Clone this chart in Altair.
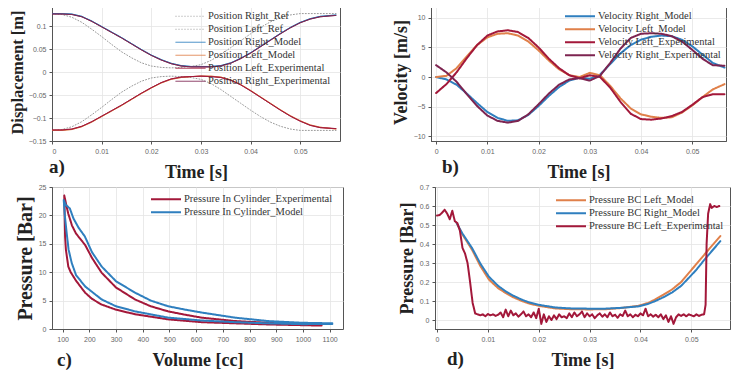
import altair as alt
import pandas as pd

# ---------------- Panel a: displacement ----------------
t_a = [0, 0.002, 0.004, 0.006, 0.008, 0.010, 0.012, 0.014, 0.016, 0.018, 0.020,
       0.022, 0.024, 0.026, 0.028, 0.030, 0.032, 0.034, 0.036, 0.038, 0.040,
       0.042, 0.044, 0.046, 0.048, 0.050, 0.052, 0.054, 0.0572]
pos_right_ref = [0.127, 0.125, 0.119, 0.108, 0.093, 0.077, 0.060, 0.044, 0.031, 0.020, 0.013,
                 0.010, 0.009, 0.010, 0.012, 0.016, 0.025, 0.038, 0.053, 0.068, 0.083,
                 0.097, 0.109, 0.118, 0.124, 0.127, 0.127, 0.127, 0.127]
pos_left_ref = [-0.127, -0.125, -0.119, -0.108, -0.093, -0.077, -0.060, -0.044, -0.031, -0.020, -0.013,
                -0.010, -0.009, -0.010, -0.012, -0.016, -0.025, -0.038, -0.053, -0.068, -0.083,
                -0.097, -0.109, -0.118, -0.124, -0.127, -0.127, -0.127, -0.127]
pos_right_model = [0.127, 0.127, 0.126, 0.121, 0.111, 0.099, 0.087, 0.075, 0.062, 0.049, 0.037,
                   0.027, 0.019, 0.014, 0.012, 0.012, 0.012, 0.014, 0.020, 0.030, 0.042,
                   0.056, 0.070, 0.084, 0.097, 0.108, 0.116, 0.121, 0.124]
pos_left_model = [-0.127, -0.127, -0.125, -0.119, -0.109, -0.097, -0.085, -0.073, -0.060, -0.047, -0.035,
                  -0.024, -0.016, -0.012, -0.010, -0.009, -0.009, -0.011, -0.017, -0.027, -0.040,
                  -0.054, -0.068, -0.082, -0.095, -0.106, -0.115, -0.120, -0.124]
pos_left_exp = [-0.126, -0.126, -0.124, -0.118, -0.108, -0.096, -0.084, -0.072, -0.059, -0.046, -0.034,
                -0.023, -0.015, -0.011, -0.010, -0.009, -0.010, -0.012, -0.018, -0.028, -0.041,
                -0.055, -0.069, -0.083, -0.096, -0.107, -0.116, -0.121, -0.123]
pos_right_exp = [0.126, 0.126, 0.125, 0.120, 0.110, 0.098, 0.086, 0.074, 0.061, 0.048, 0.036,
                 0.026, 0.018, 0.013, 0.011, 0.011, 0.011, 0.013, 0.019, 0.029, 0.041,
                 0.055, 0.069, 0.083, 0.096, 0.107, 0.115, 0.120, 0.123]

# ---------------- Panel b: velocity ----------------
t_b = [0, 0.002, 0.004, 0.006, 0.008, 0.010, 0.012, 0.014, 0.016, 0.018, 0.020,
       0.022, 0.024, 0.026, 0.028, 0.030, 0.032, 0.034, 0.036, 0.038, 0.040,
       0.042, 0.044, 0.046, 0.048, 0.050, 0.052, 0.054, 0.0563]
vel_right_model = [0, -0.4, -1.3, -2.8, -4.4, -5.9, -6.9, -7.4, -7.3, -6.4, -4.9,
                   -3.2, -1.7, -0.6, -0.1, -0.3, 0.4, 2.2, 4.0, 5.4, 6.3,
                   6.8, 7.0, 6.9, 6.3, 5.2, 3.8, 2.4, 1.6]
vel_left_model = [0, 0.2, 1.5, 3.5, 5.4, 6.7, 7.3, 7.4, 7.0, 6.0, 4.5,
                  2.8, 1.3, 0.3, 0.0, 0.7, 0.3, -1.5, -3.6, -5.3, -6.3,
                  -6.7, -6.9, -6.8, -6.0, -4.8, -3.4, -2.1, -1.2]
vel_left_exp = [-2.7, -1.2, 0.8, 3.2, 5.4, 7.0, 7.7, 7.9, 7.6, 6.6, 5.0,
                3.1, 1.5, 0.3, -0.2, 0.3, 0.0, -1.8, -4.2, -6.2, -7.1,
                -7.2, -7.0, -6.6, -5.9, -4.7, -3.4, -2.9, -2.9]
vel_right_exp = [2.0, 0.8, -0.8, -2.9, -4.9, -6.5, -7.4, -7.7, -7.4, -6.3, -4.6,
                 -2.8, -1.3, -0.4, -0.2, -0.6, 0.2, 2.4, 4.8, 6.6, 7.3,
                 7.4, 7.3, 6.9, 6.0, 4.6, 3.1, 2.0, 1.9]

# ---------------- Panel c: PV loop ----------------
vol_exp = [1070, 870, 745, 620, 495, 371, 300, 246, 210, 184, 150, 130, 121, 112, 109, 106,
           115, 121, 135, 150, 184, 210, 246, 300, 371, 430, 495, 560, 620, 745, 869, 994, 1070]
pres_exp = [0.6, 0.8, 1.0, 1.2, 1.7, 2.6, 3.4, 4.3, 5.3, 6.4, 8.5, 10.0, 11.0, 14.0, 16.3, 23.5,
            21.5, 20.3, 18.2, 16.8, 14.8, 12.5, 9.9, 7.3, 5.2, 4.0, 3.1, 2.5, 2.0, 1.4, 1.1, 0.8, 0.8]
vol_model = [1110, 1000, 869, 745, 620, 495, 371, 300, 246, 184, 150, 134, 122, 115, 108, 104,
             112, 118, 127, 140, 160, 183, 210, 246, 300, 371, 430, 495, 560, 620, 745, 869, 994, 1110]
pres_model = [0.9, 0.85, 1.0, 1.2, 1.5, 2.0, 3.1, 4.0, 5.2, 7.5, 9.5, 11.6, 14.0, 16.9, 20.0, 22.7,
              21.8, 21.6, 21.2, 19.5, 17.8, 16.3, 13.5, 11.0, 8.4, 6.4, 5.0, 4.0, 3.4, 2.9, 2.0, 1.4, 1.1, 1.0]

# ---------------- Panel d: pressure BC ----------------
t_d_model = [0.0039, 0.005, 0.0069, 0.0085, 0.0102, 0.012, 0.0134, 0.015, 0.0167, 0.018, 0.020,
             0.0233, 0.0265, 0.030, 0.0331, 0.036, 0.0396, 0.0415, 0.0429, 0.0445, 0.0462,
             0.048, 0.0495, 0.051, 0.0528, 0.0557]
pbc_left_model = [0.508, 0.45, 0.369, 0.285, 0.213, 0.168, 0.144, 0.12, 0.10, 0.088, 0.075,
                  0.061, 0.057, 0.056, 0.057, 0.063, 0.075, 0.09, 0.109, 0.133, 0.161,
                  0.2, 0.248, 0.295, 0.352, 0.442]
pbc_right_model = [0.508, 0.455, 0.378, 0.298, 0.228, 0.18, 0.153, 0.128, 0.107, 0.094, 0.08,
                   0.066, 0.061, 0.06, 0.06, 0.064, 0.072, 0.085, 0.10, 0.12, 0.145,
                   0.18, 0.222, 0.265, 0.325, 0.415]
t_d_exp = [0.0000, 0.0005, 0.0010, 0.0015, 0.0020, 0.0025, 0.0030, 0.0035, 0.0040, 0.0045,
           0.0050, 0.0055, 0.0060, 0.0065, 0.0070, 0.0075, 0.0080, 0.0085, 0.0090, 0.0095,
           0.0100, 0.0105, 0.0110, 0.0115, 0.0120, 0.0125, 0.0130, 0.0135, 0.0140, 0.0145,
           0.0150, 0.0155, 0.0160, 0.0165, 0.0170, 0.0175, 0.0180, 0.0185, 0.0190, 0.0195,
           0.0200, 0.0205, 0.0210, 0.0215, 0.0220, 0.0225, 0.0230, 0.0235, 0.0240, 0.0245,
           0.0250, 0.0255, 0.0260, 0.0265, 0.0270, 0.0275, 0.0280, 0.0285, 0.0290, 0.0295,
           0.0300, 0.0305, 0.0310, 0.0315, 0.0320, 0.0325, 0.0330, 0.0335, 0.0340, 0.0345,
           0.0350, 0.0355, 0.0360, 0.0365, 0.0370, 0.0375, 0.0380, 0.0385, 0.0390, 0.0395,
           0.0400, 0.0405, 0.0410, 0.0415, 0.0420, 0.0425, 0.0430, 0.0435, 0.0440, 0.0445,
           0.0450, 0.0455, 0.0460, 0.0465, 0.0470, 0.0475, 0.0480, 0.0485, 0.0490, 0.0495,
           0.0500, 0.0505, 0.0510, 0.0515, 0.0520, 0.0525, 0.0528, 0.0530, 0.0533, 0.0537,
           0.0540, 0.0545, 0.0550, 0.0555]
pbc_left_exp = [0.550, 0.552, 0.565, 0.580, 0.560, 0.530, 0.575, 0.520, 0.510, 0.470,
                0.380, 0.350, 0.300, 0.200, 0.090, 0.035, 0.030, 0.025, 0.030, 0.020,
                0.032, 0.025, 0.030, 0.022, 0.028, 0.040, 0.015, 0.055, 0.020, 0.050,
                0.025, 0.035, 0.018, 0.030, 0.045, 0.020, 0.030, 0.015, 0.040, 0.010,
                0.060, -0.020, 0.030, -0.010, 0.020, 0.000, 0.025, 0.005, 0.030, 0.015,
                0.020, 0.010, 0.035, 0.015, 0.040, 0.020, 0.030, 0.045, 0.015, 0.035,
                0.020, 0.030, 0.010, 0.025, 0.035, 0.018, 0.030, 0.015, 0.040, 0.020,
                0.028, 0.012, 0.030, 0.022, 0.050, 0.020, 0.030, 0.015, 0.028, 0.020,
                0.035, 0.025, 0.060, 0.020, 0.030, 0.018, 0.028, 0.015, 0.030, 0.005,
                0.025, -0.010, 0.020, -0.020, 0.015, 0.030, 0.022, 0.030, 0.020, 0.030,
                0.025, 0.020, 0.030, 0.022, 0.028, 0.030, 0.080, 0.400, 0.560, 0.610,
                0.590, 0.600, 0.595, 0.600]

SERIF = "Liberation Serif"
SANS = "Liberation Sans"

BLUE = "#2f7fbf"
ORANGE = "#e0804a"
RED = "#a3183a"
PURPLE = "#7d2450"
GREY = "#9a9a9a"


def long_df(t, series):
    rows = []
    for name, vals in series:
        xs = t[name] if isinstance(t, dict) else t
        for i, (x, y) in enumerate(zip(xs, vals)):
            rows.append({"x": x, "y": y, "s": name, "i": i})
    return pd.DataFrame(rows)


def panel(df, names, colors, widths, dashes, xdom, ydom, xvals, yvals, xtitle, ytitle,
          ytitle_size, w, h, lx, ly, tag, tagx, tagy, ordered=False):
    leg = alt.Legend(orient="none", legendX=lx, legendY=ly, title=None)
    enc = dict(
        x=alt.X("x:Q", scale=alt.Scale(domain=xdom, nice=False, zero=False),
                axis=alt.Axis(values=xvals, title=xtitle, format="~f", grid=True,
                              titlePadding=9)),
        y=alt.Y("y:Q", scale=alt.Scale(domain=ydom, nice=False, zero=False),
                axis=alt.Axis(values=yvals, title=ytitle, format="~f", grid=True,
                              titleFontSize=ytitle_size)),
        color=alt.Color("s:N", scale=alt.Scale(domain=names, range=colors), sort=names, legend=leg),
        strokeWidth=alt.StrokeWidth("s:N", scale=alt.Scale(domain=names, range=widths),
                                    sort=names, legend=leg),
        strokeDash=alt.StrokeDash("s:N", scale=alt.Scale(domain=names, range=dashes),
                                  sort=names, legend=leg),
    )
    if ordered:
        enc["order"] = alt.Order("i:Q")
    lines = alt.Chart(df).mark_line(clip=True, strokeCap="round", strokeJoin="round").encode(**enc)
    lab = alt.Chart(pd.DataFrame({"t": [tag]})).mark_text(
        font=SERIF, fontSize=19, fontWeight="bold", align="left", baseline="alphabetic",
        color="#222").encode(text="t:N", x=alt.value(tagx), y=alt.value(tagy))
    return alt.layer(lines, lab).properties(width=w, height=h).resolve_scale(
        color="independent", strokeWidth="independent", strokeDash="independent")


H1 = 138
H2 = 142

names_a = ["Position Right_Ref", "Position Left_Ref", "Position Right_Model",
           "Position Left_Model", "Position Left_Experimental", "Position Right_Experimental"]
df_a = long_df(t_a, [(names_a[0], pos_right_ref), (names_a[1], pos_left_ref),
                     (names_a[2], pos_right_model), (names_a[3], pos_left_model),
                     (names_a[4], pos_left_exp), (names_a[5], pos_right_exp)])
pa = panel(df_a, names_a, [GREY, GREY, BLUE, ORANGE, RED, PURPLE], [1, 1, 3, 3, 2.5, 2.5],
           [[1, 2], [1, 2], [1, 0], [1, 0], [1, 0], [1, 0]],
           [0, 0.058], [-0.15, 0.15], [0, 0.01, 0.02, 0.03, 0.04, 0.05],
           [-0.15, -0.1, -0.05, 0, 0.05, 0.1], "Time [s]", "Displacement [m]", 16.5,
           288, H1, 123, 7, "a)", -3, H1 + 32)

names_b = ["Velocity Right_Model", "Velocity Left_Model", "Velocity Left_Experimental",
           "Velocity Right_Experimental"]
df_b = long_df(t_b, [(names_b[0], vel_right_model), (names_b[1], vel_left_model),
                     (names_b[2], vel_left_exp), (names_b[3], vel_right_exp)])
pb = panel(df_b, names_b, [BLUE, ORANGE, RED, PURPLE], [2, 2, 3, 3],
           [[1, 0], [1, 0], [1, 0], [1, 0]],
           [-0.001, 0.0566], [-10.8, 12.5], [0, 0.01, 0.02, 0.03, 0.04, 0.05],
           [-10, -5, 0, 5, 10], "Time [s]", "Velocity [m/s]", 18,
           295, H1, 133, 7, "b)", 11, H1 + 32)

names_c = ["Pressure In Cylinder_Experimental", "Pressure In Cylinder_Model"]
df_c = long_df({names_c[0]: vol_exp, names_c[1]: vol_model},
               [(names_c[0], pres_exp), (names_c[1], pres_model)])
pc = panel(df_c, names_c, [RED, BLUE], [2, 2], [[1, 0], [1, 0]],
           [60, 1150], [0, 25], [100, 200, 300, 400, 500, 600, 700, 800, 900, 1000, 1100],
           [0, 5, 10, 15, 20, 25], "Volume [cc]", "Pressure [Bar]", 20,
           291, H2, 98, 6, "c)", 5, H2 + 37, ordered=True)

names_d = ["Pressure BC Left_Model", "Pressure BC Right_Model", "Pressure BC Left_Experimental"]
df_d = long_df({names_d[0]: t_d_model, names_d[1]: t_d_model, names_d[2]: t_d_exp},
               [(names_d[0], pbc_left_model), (names_d[1], pbc_right_model),
                (names_d[2], pbc_left_exp)])
pd_ = panel(df_d, names_d, [ORANGE, BLUE, RED], [2, 2, 3], [[1, 0], [1, 0], [1, 0]],
            [-0.0004, 0.0576], [-0.047, 0.7], [0, 0.01, 0.02, 0.03, 0.04, 0.05],
            [0, 0.1, 0.2, 0.3, 0.4, 0.5, 0.6, 0.7], "Time [s]", "Pressure [Bar]", 18,
            295, H2, 120, 7, "d)", 12, H2 + 36)

top = alt.hconcat(pa, pb, spacing=50).resolve_scale(
    color="independent", strokeWidth="independent", strokeDash="independent")
bottom = alt.hconcat(pc, pd_, spacing=53).resolve_scale(
    color="independent", strokeWidth="independent", strokeDash="independent")
chart = alt.vconcat(top, bottom, spacing=0).resolve_scale(
    color="independent", strokeWidth="independent", strokeDash="independent"
).properties(padding={"left": 0, "top": -6, "right": 0, "bottom": 0}).configure_axis(
    labelFont=SANS, labelFontSize=7, labelColor="#666", labelPadding=3,
    titleFont=SERIF, titleFontSize=18, titleFontWeight="bold", titleColor="#222",
    titlePadding=3, domainColor="#555", tickColor="#555", tickSize=3,
    gridColor="#e4e4e4", gridWidth=0.8,
).configure_view(stroke="#555", strokeWidth=1).configure_legend(
    labelFont=SERIF, labelFontSize=10.5, labelColor="#333", symbolType="stroke",
    symbolSize=900, symbolStrokeWidth=3, padding=0, rowPadding=0, labelOffset=2,
    labelLimit=400, clipHeight=12.5,
)

chart.save("out.html", embed_options={"renderer": "svg", "actions": False})
